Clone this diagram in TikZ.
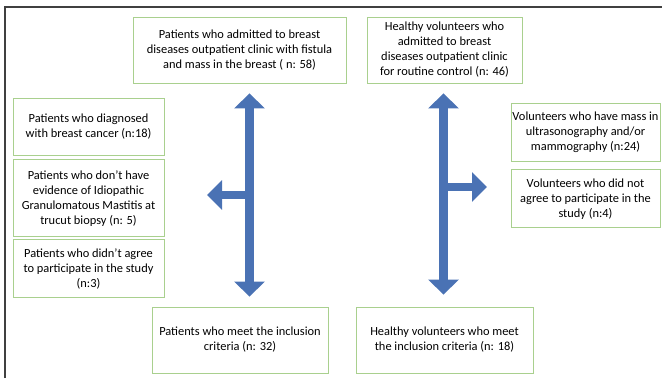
\documentclass[tikz,border=0pt]{standalone}
\usepackage{fontspec}
\setmainfont{Carlito}
\usepackage{tikz}
\usetikzlibrary{arrows.meta,positioning}
\definecolor{flowblue}{HTML}{4A72B4}
\definecolor{flowgreen}{HTML}{A9D08E}
\definecolor{framegray}{HTML}{404040}
\tikzset{
  flowbox/.style={rectangle,draw=flowgreen,line width=0.9pt,fill=white,
                  align=center,inner sep=0pt,
                  font=\fontsize{12.4}{15}\selectfont},
  bigarr/.style={line width=9pt,flowblue,
                 {Triangle[width=30pt,length=15pt]}-{Triangle[width=30pt,length=15pt]}},
  sidearr/.style={line width=8pt,flowblue,
                  -{Triangle[width=29pt,length=15pt]}},
}
\begin{document}
\begin{tikzpicture}[x=1pt,y=-1pt]
    \useasboundingbox (0,0) rectangle (662,378);
    % Frame
    \draw[framegray,line width=1.4pt] (5,378) -- (5,7) -- (662,7);

    % Top boxes
    \node[flowbox,minimum width=213pt,minimum height=66pt] (pstart) at (239.5,50)
      {Patients who admitted to breast\\diseases outpatient clinic with fistula\\and mass in the breast ( n: 58)};
    \node[flowbox,minimum width=155pt,minimum height=66pt] (hstart) at (444.5,50)
      {Healthy volunteers who\\admitted to breast\\diseases outpatient clinic\\for routine control (n: 46)};

    % Excluded patients
    \node[flowbox,minimum width=151pt,minimum height=57pt] (pcancer) at (88.5,126.5)
      {Patients who diagnosed\\with breast cancer (n:18)};
    \node[flowbox,minimum width=151pt,minimum height=77pt,below=4pt of pcancer] (pnoigm)
      {Patients who don’t have\\evidence of Idiopathic\\Granulomatous Mastitis at\\trucut biopsy (n: 5)};
    \node[flowbox,minimum width=151pt,minimum height=58pt,below=2pt of pnoigm] (prefuse)
      {Patients who didn’t agree\\to participate in the study\\(n:3)};

    % Excluded volunteers
    \node[flowbox,minimum width=149pt,minimum height=58pt] (hmass) at (585.5,132)
      {Volunteers who have mass in\\ultrasonography and/or\\mammography (n:24)};
    \node[flowbox,minimum width=149pt,minimum height=58pt,below=8pt of hmass] (hrefuse)
      {Volunteers who did not\\agree to participate in the\\study (n:4)};

    % Final boxes
    \node[flowbox,minimum width=176pt,minimum height=66pt] (pfinal) at (240,340)
      {Patients who meet the inclusion\\criteria (n: 32)};
    \node[flowbox,minimum width=177pt,minimum height=66pt] (hfinal) at (444.5,340)
      {Healthy volunteers who meet\\the inclusion criteria (n: 18)};

    % Arrows
    \coordinate (pjoin) at (249.5,195);
    \coordinate (ptip) at (207,195);
    \coordinate (hjoin) at (443.5,187);
    \coordinate (htip) at (487,187);
    \draw[sidearr] (pjoin) -- (ptip);
    \draw[sidearr] (hjoin) -- (htip);
    \draw[bigarr,shorten <=10pt,shorten >=10pt]
      (pstart.south -| pjoin) -- (pfinal.north -| pjoin);
    \draw[bigarr,shorten <=10pt,shorten >=12pt]
      (hstart.south -| hjoin) -- (hfinal.north -| hjoin);
\end{tikzpicture}
\end{document}
